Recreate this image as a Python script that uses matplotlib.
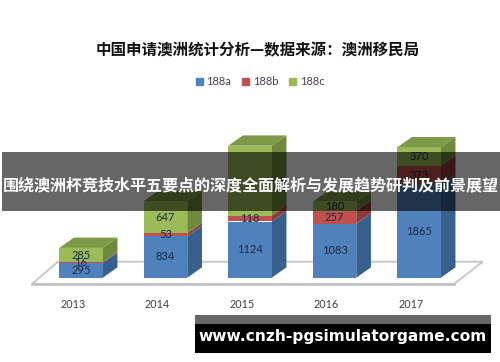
import matplotlib
matplotlib.use("Agg")
import matplotlib.pyplot as plt
from matplotlib.patches import Patch, Rectangle, Polygon
import numpy as np

plt.rcParams['font.family'] = ['Noto Sans CJK SC', 'DejaVu Sans']

title = "中国申请澳洲统计分析—数据来源：澳洲移民局"
banner = "围绕澳洲杯竞技水平五要点的深度全面解析与发展趋势研判及前景展望"
site = "www.cnzh-pgsimulatorgame.com"
years = ["2013", "2014", "2015", "2016", "2017"]
series_names = ["188a", "188b", "188c"]
s188a = [295, 834, 1124, 1083, 1865]
s188b = [16, 53, 118, 257, 373]
s188c = [285, 647, 1398, 180, 370]
# the 2015 value of 188c cannot be read in the reference: its label is not shown
hidden_labels = [(2, 2)]

front = ["#4f81bd", "#c0504d", "#9bbb59"]
side = ["#37608f", "#8f3b39", "#6f8a3c"]
top_c = "#7d9a48"

W, H = 500, 362
PX_X = 84.5      # pixels per category
PX_Y = 0.05      # pixels per unit
X0, Y0 = 81.0, 277.7

fig = plt.figure(figsize=(W/100, H/100), dpi=100, facecolor="white")
ax = fig.add_axes([0, 0, 1, 1])
ax.set_xlim(-X0/PX_X, (W-X0)/PX_X)
ax.set_ylim(-(H-Y0)/PX_Y, Y0/PX_Y)
ax.axis("off")

px = lambda x: (x-X0)/PX_X
py = lambda y: (Y0-y)/PX_Y

floor = [(32, 284), (58, 261.7), (482.7, 261.7), (454, 284)]
ax.add_patch(Polygon([(px(a), py(b)) for a, b in floor], closed=True, fc="white",
                     ec="#c4c4c4", lw=1.3, zorder=1))
ax.plot([px(32), px(454)], [py(284.3), py(284.3)], color="#c4c4c4", lw=2, zorder=1)

width = 43.5/PX_X
dx, dy = 14.7/PX_X, 10.3/PX_Y
series = [s188a, s188b, s188c]
for i, yr in enumerate(years):
    base = 0
    l, r = i-width/2, i+width/2
    for k, vals in enumerate(series):
        v = vals[i]
        t = base+v
        ax.add_patch(Polygon([(r, base), (r+dx, base+dy), (r+dx, t+dy), (r, t)],
                             closed=True, fc=side[k], ec="none", zorder=2))
        ax.add_patch(Rectangle((l, base), width, v, fc=front[k], ec="none", zorder=3))
        if (i, k) not in hidden_labels:
            ax.text(i, base+v/2, str(v), ha="center", va="center", fontsize=8,
                    color="#1f2a44", family=["Lato", "DejaVu Sans"], zorder=5)
        base = t
    ax.add_patch(Polygon([(l, base), (r, base), (r+dx, base+dy), (l+dx, base+dy)],
                         closed=True, fc=top_c, ec="none", zorder=3))
    ax.text(i-8/PX_X, py(304), yr, ha="center", va="center", fontsize=7.8,
            color="#443f4c", family=["Lato", "DejaVu Sans"])

ax.text(px(258), py(50.7), title, ha="center", va="center", fontsize=11.2,
        fontweight="bold", color="#111111")

handles = [Patch(color=c, label=n) for c, n in zip(front, series_names)]
ax.legend(handles=handles, loc="center", bbox_to_anchor=(260/W, 1-81.7/H), ncol=3,
          frameon=False, handlelength=0.65, handleheight=0.65,
          handletextpad=0.3, columnspacing=1.0, labelcolor="#4a3f55",
          prop={"family": ["Lato", "DejaVu Sans"], "size": 8})

ax.add_patch(Rectangle((px(2), py(211)), 498/PX_X, 59/PX_Y, fc="black", alpha=0.6,
                       ec="none", zorder=8))
ax.text(px(250.5), py(185), banner, ha="center", va="center", fontsize=11.55,
        fontweight="bold", color="white", zorder=9)
ax.add_patch(Rectangle((px(195), py(324)), 296/PX_X, 9/PX_Y, fc="#666666", ec="none", zorder=8))
ax.add_patch(Rectangle((px(195), py(353)), 296/PX_X, 29/PX_Y, fc="black", ec="none", zorder=8))
ax.text(px(342.5), py(337), site, ha="center", va="center", fontsize=11.1,
        fontweight="bold", color="white", family=["DejaVu Sans"], zorder=9)

fig.savefig("out.png", dpi=100, facecolor="white")
